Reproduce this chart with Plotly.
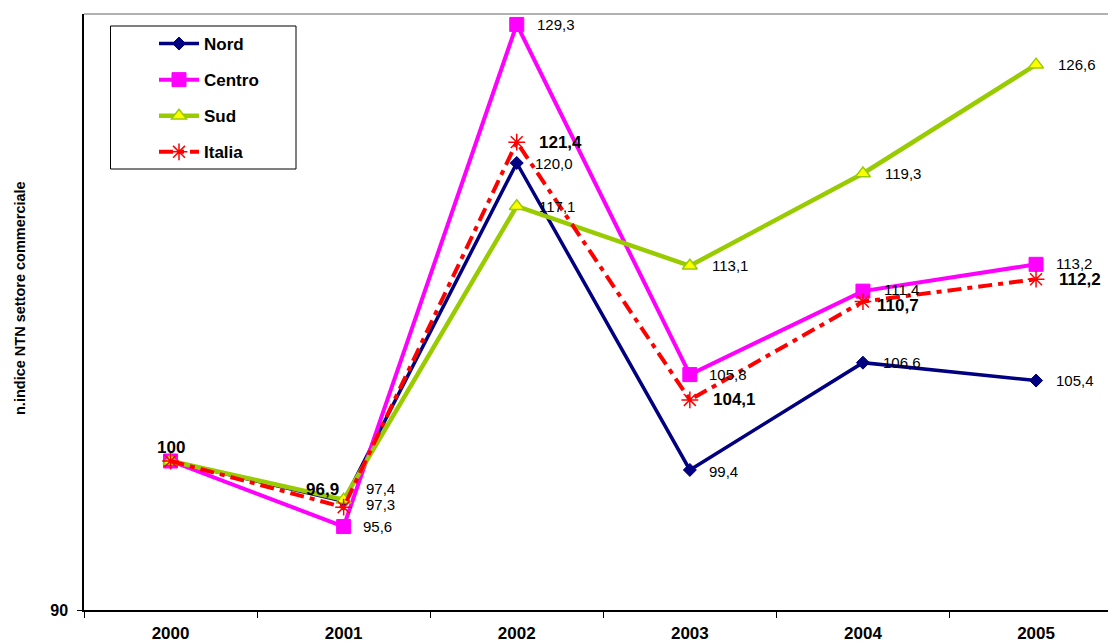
import plotly.graph_objects as go

years = ["2000", "2001", "2002", "2003", "2004", "2005"]
nord = [100, 97.3, 120.0, 99.4, 106.6, 105.4]
centro = [100, 95.6, 129.3, 105.8, 111.4, 113.2]
sud = [100, 97.4, 117.1, 113.1, 119.3, 126.6]
italia = [100, 96.9, 121.4, 104.1, 110.7, 112.2]

FONT = "Liberation Sans, Arial, sans-serif"

def fmt(v):
    return "100" if v == 100 else f"{v:.1f}".replace(".", ",")

fig = go.Figure()

fig.add_trace(go.Scatter(
    x=years, y=nord, name="Nord", mode="lines+markers", legendgroup="a",
    line=dict(color="#000080", width=3.5),
    marker=dict(symbol="diamond", size=10, color="#000080",
                line=dict(color="#000080", width=1)),
))
fig.add_trace(go.Scatter(
    x=years, y=centro, name="Centro", mode="lines+markers", legendgroup="b",
    line=dict(color="#FF00FF", width=4),
    marker=dict(symbol="square", size=14, color="#FF00FF",
                line=dict(color="#FF00FF", width=1)),
))
fig.add_trace(go.Scatter(
    x=years, y=sud, name="Sud", mode="lines+markers", legendgroup="c",
    line=dict(color="#99CC00", width=4.5),
    marker=dict(symbol="triangle-up", size=13, color="#FFFF00",
                line=dict(color="#99CC00", width=1.5)),
))
fig.add_trace(go.Scatter(
    x=years, y=italia, name="Italia", mode="lines+markers", legendgroup="d",
    line=dict(color="#FF0000", width=4, dash="14px,6px,5px,6px"),
    marker=dict(symbol="asterisk-open", size=14, color="#FF0000",
                line=dict(color="#FF0000", width=1.5)),
))

# label offsets (style): (xanchor, xshift, yshift) per point, None = no label
offs_nord = [None, ("left", 20, -3), ("left", 16, 0), ("left", 17, -2), ("left", 18, 0), ("left", 18, 0)]
offs_centro = [None, ("left", 17, 0), ("left", 18, 0), ("left", 17, 0), ("left", 19, 2), ("left", 18, 1)]
offs_sud = [None, ("left", 20, 11), ("left", 20, 0), ("left", 20, 0), ("left", 20, 0), ("left", 20, 0)]
offs_italia = [("center", 0, 14), ("right", -3, 18), ("left", 20, 0), ("left", 21, 0), ("left", 12, -4), ("left", 21, 0)]

def add_labels(vals, offs, bold):
    for i, (v, o) in enumerate(zip(vals, offs)):
        if o is None:
            continue
        xa, xs, ys = o
        t = fmt(v)
        if bold:
            t = f"<b>{t}</b>"
        fig.add_annotation(
            x=i, y=v, text=t, showarrow=False, xanchor=xa, yanchor="middle",
            xshift=xs, yshift=ys,
            font=dict(family=FONT, size=17 if bold else 15, color="#000000"),
        )

add_labels(nord, offs_nord, False)
add_labels(centro, offs_centro, False)
add_labels(sud, offs_sud, False)
add_labels(italia, offs_italia, True)

fig.add_annotation(
    xref="paper", yref="paper", x=(20 - 84) / 1024, y=(610 - 298) / 596,
    text="<b>n.indice NTN settore commerciale</b>", textangle=-90,
    showarrow=False, xanchor="center", yanchor="middle",
    font=dict(family=FONT, size=14.5, color="#000000"),
)

fig.add_shape(type="line", xref="paper", yref="paper", x0=0, x1=1, y0=1, y1=1,
              line=dict(color="#999999", width=1.5))
# legend frame
fig.add_shape(type="rect", xref="paper", yref="paper", layer="above",
              x0=(110.5 - 84) / 1024, x1=(296 - 84) / 1024,
              y0=(610 - 169) / 596, y1=(610 - 26) / 596,
              line=dict(color="#000000", width=1), fillcolor="white")

fig.update_layout(
    width=1108, height=642,
    margin=dict(l=84, r=0, t=14, b=32),
    paper_bgcolor="white", plot_bgcolor="white",
    font=dict(family=FONT, color="#000000"),
    showlegend=True,
    legend=dict(
        x=26 / 1024, y=(610 - 26) / 596, xanchor="left", yanchor="top",
        borderwidth=0, bgcolor="rgba(0,0,0,0)",
        font=dict(family=FONT, size=17, color="#000000", weight="bold"),
        tracegroupgap=11, itemwidth=40, indentation=44,
    ),
    xaxis=dict(
        type="category", range=[-0.5, -0.5 + 1024 / 173.1],
        automargin=False,
        showgrid=False, zeroline=False,
        showline=True, linecolor="#000000", linewidth=1.5,
        ticks="outside", tickson="boundaries", ticklen=6, tickcolor="#000000",
        ticklabelstandoff=7,
        tickfont=dict(family=FONT, size=17, color="#000000", weight="bold"),
    ),
    yaxis=dict(
        range=[90, 130], tickvals=[90], ticktext=["90"],
        automargin=False,
        showgrid=False, zeroline=False,
        showline=True, linecolor="#000000", linewidth=1.5,
        ticks="outside", ticklen=5, tickcolor="#000000",
        ticklabelstandoff=6,
        tickfont=dict(family=FONT, size=16, color="#000000", weight="bold"),
    ),
)

fig.write_html("out.html")
